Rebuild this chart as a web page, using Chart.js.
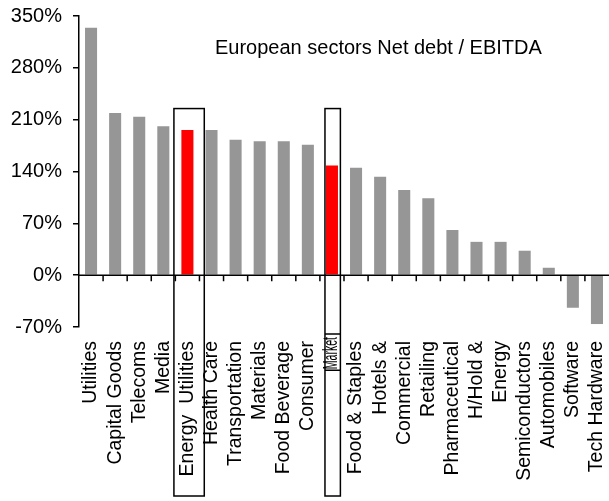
<!DOCTYPE html>
<html>
<head>
<meta charset="utf-8">
<title>European sectors Net debt / EBITDA</title>
<script src="https://cdn.jsdelivr.net/npm/chart.js@4.4.1/dist/chart.umd.min.js"></script>
<style>
  html, body { margin: 0; padding: 0; background: #fff; }
  #wrap { width: 609px; height: 501px; position: relative; }
</style>
</head>
<body>
<div id="wrap"><canvas id="chart"></canvas></div>
<script>
// Sectores europeos: deuda neta / EBITDA (%)
const sectors = ['Utilities', 'Capital Goods', 'Telecoms', 'Media', 'Energy  Utilities', 'Health Care',
  'Transportation', 'Materials', 'Food Beverage', 'Consumer', 'Market', 'Food & Staples', 'Hotels &',
  'Commercial', 'Retailing', 'Pharmaceutical', 'H/Hold &', 'Energy', 'Semiconductors', 'Automobiles',
  'Software', 'Tech Hardware'];
const netDebtEbitda = [334, 219, 214, 201, 196, 196, 183, 181, 181, 176, 148, 145, 133, 115, 104, 61, 45, 45, 33, 10, -44, -66];
const highlighted = ['Energy  Utilities', 'Market'];
const yTicks = [-70, 0, 70, 140, 210, 280, 350];
const chartTitle = 'European sectors Net debt / EBITDA';

const FONT = '"Liberation Sans", Arial, Helvetica, sans-serif';
const GREY = '#969696';
const RED = '#ff0000';

// recuadros alrededor de los sectores resaltados (en unidades de categoria)
const boxes = [
  {label: 'Energy  Utilities', left: -0.56, right: 0.70, top: 225},
  {label: 'Market', left: -0.29, right: 0.35, top: 225, condensed: true}
];

const decor = {
  id: 'decor',
  afterDraw(chart) {
    const {ctx, chartArea, scales: {x, y}} = chart;
    const step = x.width / sectors.length;
    const y0 = y.getPixelForValue(0);
    ctx.save();
    ctx.strokeStyle = '#000';
    ctx.fillStyle = '#000';
    ctx.lineWidth = 1.5;

    // linea del cero y marcas entre categorias
    ctx.beginPath();
    ctx.moveTo(chartArea.left, y0);
    ctx.lineTo(chartArea.right, y0);
    for (let i = 1; i < sectors.length; i++) {
      const px = x.getPixelForValue(i) - step / 2;
      ctx.moveTo(px, y0);
      ctx.lineTo(px, y0 + 6);
    }
    ctx.stroke();

    // recuadros
    boxes.forEach(b => {
      const cx = x.getPixelForValue(sectors.indexOf(b.label));
      const l = cx + b.left * step;
      const r = cx + b.right * step;
      const t = y.getPixelForValue(b.top);
      const bottom = chart.height - 5;
      ctx.strokeRect(l, t, r - l, bottom - t);
      if (b.condensed) {
        // etiqueta comprimida dentro de su propio cuadro
        const top = chartArea.bottom + 7;
        ctx.save();
        ctx.translate(cx, top + 3);
        ctx.rotate(-Math.PI / 2);
        ctx.scale(0.54, 1);
        ctx.font = '19.5px ' + FONT;
        ctx.textAlign = 'right';
        ctx.textBaseline = 'middle';
        ctx.fillText(b.label, 0, 0);
        const w = ctx.measureText(b.label).width * 0.54;
        ctx.restore();
        ctx.beginPath();
        ctx.moveTo(l, top);
        ctx.lineTo(r, top);
        ctx.moveTo(l, top + w + 4);
        ctx.lineTo(r, top + w + 4);
        ctx.stroke();
      }
    });

    // titulo
    ctx.font = '20px ' + FONT;
    ctx.textAlign = 'left';
    ctx.textBaseline = 'alphabetic';
    ctx.fillText(chartTitle, 215, 54);
    ctx.restore();
  }
};

const ctx = document.getElementById('chart');
const chart = new Chart(ctx, {
  type: 'bar',
  data: {
    labels: sectors,
    datasets: [{
      data: netDebtEbitda,
      backgroundColor: sectors.map(s => highlighted.includes(s) ? RED : GREY),
      borderWidth: 0,
      barPercentage: 0.5,
      categoryPercentage: 1
    }]
  },
  options: {
    responsive: true,
    maintainAspectRatio: false,
    animation: false,
    layout: {padding: {top: 16, left: 0, right: 0, bottom: 0}},
    plugins: {legend: {display: false}, tooltip: {enabled: false}, title: {display: false}},
    scales: {
      x: {
        border: {display: false},
        grid: {display: false, drawTicks: false},
        ticks: {
          autoSkip: false,
          maxRotation: 90,
          minRotation: 90,
          padding: 14,
          color: '#000',
          font: {family: FONT, size: 19.5},
          // la etiqueta de Market se dibuja aparte, comprimida
          callback: (v, i) => sectors[i] === 'Market' ? '' : sectors[i]
        },
        afterFit: s => { s.height = 174; s.paddingLeft = 0; s.paddingRight = 0; }
      },
      y: {
        min: yTicks[0],
        max: yTicks[yTicks.length - 1],
        border: {display: true, color: '#000', width: 1.5},
        grid: {drawOnChartArea: false, drawTicks: true, tickLength: 6, color: '#000', lineWidth: 1.5},
        afterBuildTicks: s => { s.ticks = yTicks.map(v => ({value: v})); },
        ticks: {
          padding: 11,
          color: '#000',
          font: {family: FONT, size: 20},
          callback: v => v + '%'
        },
        afterFit: s => { s.width = 79; s.paddingTop = 0; s.paddingBottom = 0; }
      }
    }
  },
  plugins: [decor]
});
</script>
</body>
</html>
